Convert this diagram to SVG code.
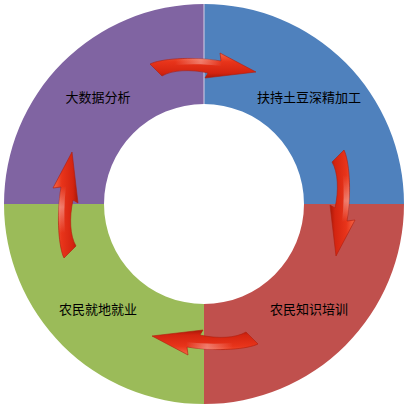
<svg xmlns="http://www.w3.org/2000/svg" width="412" height="407" viewBox="0 0 412 407">
<style>
.lbl{font-family:"Noto Sans CJK SC","Liberation Sans",sans-serif;font-size:13px;fill:#000;text-anchor:middle}
</style>
<defs>
<linearGradient id="ag" x1="0" y1="0" x2="0" y2="1">
<stop offset="0" stop-color="#F46848"/>
<stop offset="0.35" stop-color="#E8341A"/>
<stop offset="0.8" stop-color="#D42410"/>
<stop offset="1" stop-color="#A81808"/>
</linearGradient>
<linearGradient id="hl" x1="0" y1="0" x2="1" y2="0">
<stop offset="0" stop-color="#fff" stop-opacity="0"/>
<stop offset="0.55" stop-color="#fff" stop-opacity="0.35"/>
<stop offset="1" stop-color="#fff" stop-opacity="0"/>
</linearGradient>
<g id="arrow">
<path d="M150,64 C160,59 190,56 221,61 L220,53 L256,72 L205,78 L208,73 C190,69 172,70 162,76 Z" fill="url(#ag)" stroke="#B01C0C" stroke-width="0.6"/>
<path d="M175,60 C190,58 205,58 221,61 L222,66 C205,64 190,64 175,65 Z" fill="url(#hl)"/>
</g>
</defs>
<rect width="412" height="407" fill="#fff"/>
<g id="node-top-right">
<path d="M204,4 A200,200 0 0 1 404,204 L304,204 A100,100 0 0 0 204,104 Z" fill="#4F81BD"/>
<text class="lbl" x="309" y="102">扶持土豆深精加工</text>
</g>
<g id="node-bottom-right">
<path d="M404,204 A200,200 0 0 1 204,404 L204,304 A100,100 0 0 0 304,204 Z" fill="#C0504D"/>
<text class="lbl" x="309" y="314">农民知识培训</text>
</g>
<g id="node-bottom-left">
<path d="M204,404 A200,200 0 0 1 4,204 L104,204 A100,100 0 0 0 204,304 Z" fill="#9BBB59"/>
<text class="lbl" x="98" y="314">农民就地就业</text>
</g>
<g id="node-top-left">
<path d="M4,204 A200,200 0 0 1 204,4 L204,104 A100,100 0 0 0 104,204 Z" fill="#8064A2"/>
<line x1="204" y1="4" x2="204" y2="104" stroke="#D8D0E6" stroke-width="1"/>
<text class="lbl" x="98" y="102">大数据分析</text>
</g>
<g id="connectors">
<use href="#arrow"/>
<use href="#arrow" transform="rotate(90 204 204)"/>
<use href="#arrow" transform="rotate(180 204 204)"/>
<use href="#arrow" transform="rotate(270 204 204)"/>
</g>
</svg>
